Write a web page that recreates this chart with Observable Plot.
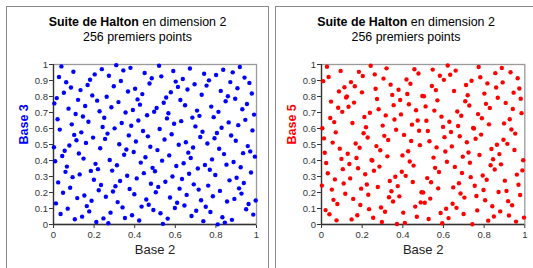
<!DOCTYPE html>
<html>
<head>
<meta charset="utf-8">
<script src="https://cdn.jsdelivr.net/npm/d3@7"></script>
<script src="https://cdn.jsdelivr.net/npm/@observablehq/plot@0.6"></script>
<style>
  html, body { margin: 0; padding: 0; background: #fff; }
  body { width: 533px; height: 268px; position: relative; overflow: hidden; font-family: "Liberation Sans", Arial, sans-serif; }
  .panel { position: absolute; border: 1.5px solid #8a8a8a; box-sizing: border-box; }
  .title { position: absolute; text-align: center; font-size: 12.4px; line-height: 15px; color: #000; white-space: nowrap; }
  .title b { font-weight: bold; }
  .chart { position: absolute; top: 0; }
</style>
</head>
<body>
<div class="panel" style="left:6px;top:6px;width:263px;height:280px;"></div>
<div class="panel" style="left:275px;top:6px;width:280px;height:280px;"></div>
<div class="title" style="left:6px;width:263px;top:15px;"><b>Suite de Halton</b> en dimension 2<br>256 premiers points</div>
<div class="title" style="left:275px;width:262px;top:15px;"><b>Suite de Halton</b> en dimension 2<br>256 premiers points</div>
<div id="c1" class="chart" style="left:0px;"></div>
<div id="c2" class="chart" style="left:268px;"></div>
<script>
// First 256 Halton points (index 1..256)
const base2 = [
.5,.25,.75,.125,.625,.375,.875,.0625,.5625,.3125,.8125,.1875,.6875,.4375,.9375,
.031,.531,.281,.781,.156,.656,.406,.906,.094,.594,.344,.844,.219,.719,.469,.969,
.016,.516,.266,.766,.141,.641,.391,.891,.078,.578,.328,.828,.203,.703,.453,.953,
.047,.547,.297,.797,.172,.672,.422,.922,.109,.609,.359,.859,.234,.734,.484,.984,
.008,.508,.258,.758,.133,.633,.383,.883,.070,.570,.320,.820,.195,.695,.445,.945,
.039,.539,.289,.789,.164,.664,.414,.914,.102,.602,.352,.852,.227,.727,.477,.977,
.023,.523,.273,.773,.148,.648,.398,.898,.086,.586,.336,.836,.211,.711,.461,.961,
.055,.555,.305,.805,.180,.680,.430,.930,.117,.617,.367,.867,.242,.742,.492,.992,
.004,.504,.254,.754,.129,.629,.379,.879,.066,.566,.316,.816,.191,.691,.441,.941,
.035,.535,.285,.785,.160,.660,.410,.910,.098,.598,.348,.848,.223,.723,.473,.973,
.020,.520,.270,.770,.145,.645,.395,.895,.082,.582,.332,.832,.207,.707,.457,.957,
.051,.551,.301,.801,.176,.676,.426,.926,.113,.613,.363,.863,.238,.738,.488,.988,
.012,.512,.262,.762,.137,.637,.387,.887,.074,.574,.324,.824,.199,.699,.449,.949,
.043,.543,.293,.793,.168,.668,.418,.918,.105,.605,.355,.855,.230,.730,.480,.980,
.027,.527,.277,.777,.152,.652,.402,.902,.090,.590,.340,.840,.215,.715,.465,.965,
.059,.559,.309,.809,.184,.684,.434,.934,.121,.621,.371,.871,.246,.746,.496,.996,
.002
];
const base3 = [
.333,.667,.111,.444,.778,.222,.556,.889,.037,.370,.704,.148,.481,.815,.259,.593,.926,
.074,.407,.741,.185,.519,.852,.296,.630,.963,.012,.346,.679,.123,.457,.790,.235,.568,.901,
.049,.383,.716,.160,.494,.827,.272,.605,.938,.086,.420,.753,.198,.531,.864,.309,.642,.975,
.025,.358,.691,.136,.469,.802,.247,.580,.914,.062,.395,.728,.173,.506,.840,.284,.617,.951,
.099,.432,.765,.210,.543,.877,.321,.654,.988,.004,.337,.671,.115,.449,.782,.226,.560,.893,
.041,.374,.708,.152,.486,.819,.263,.597,.930,.078,.412,.745,.189,.523,.856,.300,.634,.967,
.016,.350,.683,.128,.461,.794,.239,.572,.905,.053,.387,.720,.165,.498,.831,.276,.609,.942,
.091,.424,.757,.202,.535,.868,.313,.646,.979,.029,.362,.695,.140,.473,.807,.251,.584,.918,
.066,.399,.733,.177,.510,.844,.288,.621,.955,.103,.436,.770,.214,.547,.881,.325,.658,.992,
.008,.342,.675,.119,.453,.786,.230,.564,.897,.045,.379,.712,.156,.490,.823,.267,.601,.934,
.082,.416,.749,.193,.527,.860,.305,.638,.971,.021,.354,.687,.132,.465,.798,.243,.576,.909,
.058,.391,.724,.169,.502,.835,.280,.613,.947,.095,.428,.761,.206,.539,.872,.317,.650,.984,
.033,.366,.700,.144,.477,.811,.255,.588,.922,.070,.403,.737,.181,.514,.848,.292,.626,.959,
.107,.440,.774,.218,.551,.885,.329,.663,.996,.001,.335,.668,.112,.446,.779,.224,.557,.890,
.038,.372,.705,.150,.483
];
const base5 = [
.2,.4,.6,.8,
.04,.24,.44,.64,.84, .08,.28,.48,.68,.88, .12,.32,.52,.72,.92, .16,.36,.56,.76,.96,
.008,.208,.408,.608,.808, .048,.248,.448,.648,.848, .088,.288,.488,.688,.888,
.128,.328,.528,.728,.928, .168,.368,.568,.768,.968, .016,.216,.416,.616,.816,
.056,.256,.456,.656,.856, .096,.296,.496,.696,.896, .136,.336,.536,.736,.936,
.176,.376,.576,.776,.976, .024,.224,.424,.624,.824, .064,.264,.464,.664,.864,
.104,.304,.504,.704,.904, .144,.344,.544,.744,.944, .184,.384,.584,.784,.984,
.032,.232,.432,.632,.832, .072,.272,.472,.672,.872, .112,.312,.512,.712,.912,
.152,.352,.552,.752,.952, .192,.392,.592,.792,.992, .002,.202,.402,.602,.802,
.042,.242,.442,.642,.842, .082,.282,.482,.682,.882, .122,.322,.522,.722,.922,
.162,.362,.562,.762,.962, .010,.210,.410,.610,.810, .050,.250,.450,.650,.850,
.090,.290,.490,.690,.890, .130,.330,.530,.730,.930, .170,.370,.570,.770,.970,
.018,.218,.418,.618,.818, .058,.258,.458,.658,.858, .098,.298,.498,.698,.898,
.138,.338,.538,.738,.938, .178,.378,.578,.778,.978, .026,.226,.426,.626,.826,
.066,.266,.466,.666,.866, .106,.306,.506,.706,.906, .146,.346,.546,.746,.946,
.186,.386,.586,.786,.986, .034,.234,.434,.634,.834, .074,.274,.474,.674,.874,
.114,.314,.514,.714,.914, .154,.354,.554,.754,.954, .194,.394,.594,.794,.994,
.003,.203,.403,.603,.803, .043,.243
];
const xTicks = [0, 0.2, 0.4, 0.6, 0.8, 1];
const yTicks = [0, 0.1, 0.2, 0.3, 0.4, 0.5, 0.6, 0.7, 0.8, 0.9, 1];
const xTitle = "Base 2";
const yTitles = ["Base 3", "Base 5"];
const colors = ["#0000ff", "#ff0000"];

function chart(xs, ys, yTitle, color, width, marginRight) {
  const data = xs.map((x, i) => ({x, y: ys[i]}));
  return Plot.plot({
    width, height: 268,
    marginLeft: 53, marginRight, marginTop: 64, marginBottom: 44,
    style: {fontFamily: '"Liberation Sans", Arial, sans-serif', fontSize: "9.5px", color: "#333", background: "transparent"},
    x: {domain: [0, 1], ticks: xTicks, tickFormat: d => String(d), tickSize: 4, tickPadding: 3, label: null},
    y: {domain: [0, 1], ticks: yTicks, tickFormat: d => String(d), tickSize: 4, tickPadding: 1.5, label: null},
    marks: [
      Plot.frame({stroke: "#9a9a9a", strokeWidth: 1.3}),
      Plot.ruleX([0], {stroke: "#333", strokeWidth: 1.3}),
      Plot.ruleY([0], {stroke: "#333", strokeWidth: 1.3}),
      Plot.dot(data, {x: "x", y: "y", r: 2.2, fill: color, stroke: "none"}),
      Plot.text([xTitle], {frameAnchor: "bottom", dy: 29, text: d => d, fontSize: 13, fill: "#222"}),
      Plot.text([yTitle], {frameAnchor: "left", dx: -30, rotate: -90, text: d => d, fontSize: 12.5, fontWeight: "bold", fill: color})
    ]
  });
}
document.getElementById("c1").appendChild(chart(base2, base3, yTitles[0], colors[0], 268, 12));
document.getElementById("c2").appendChild(chart(base2, base5, yTitles[1], colors[1], 265, 8.7));
</script>
</body>
</html>
